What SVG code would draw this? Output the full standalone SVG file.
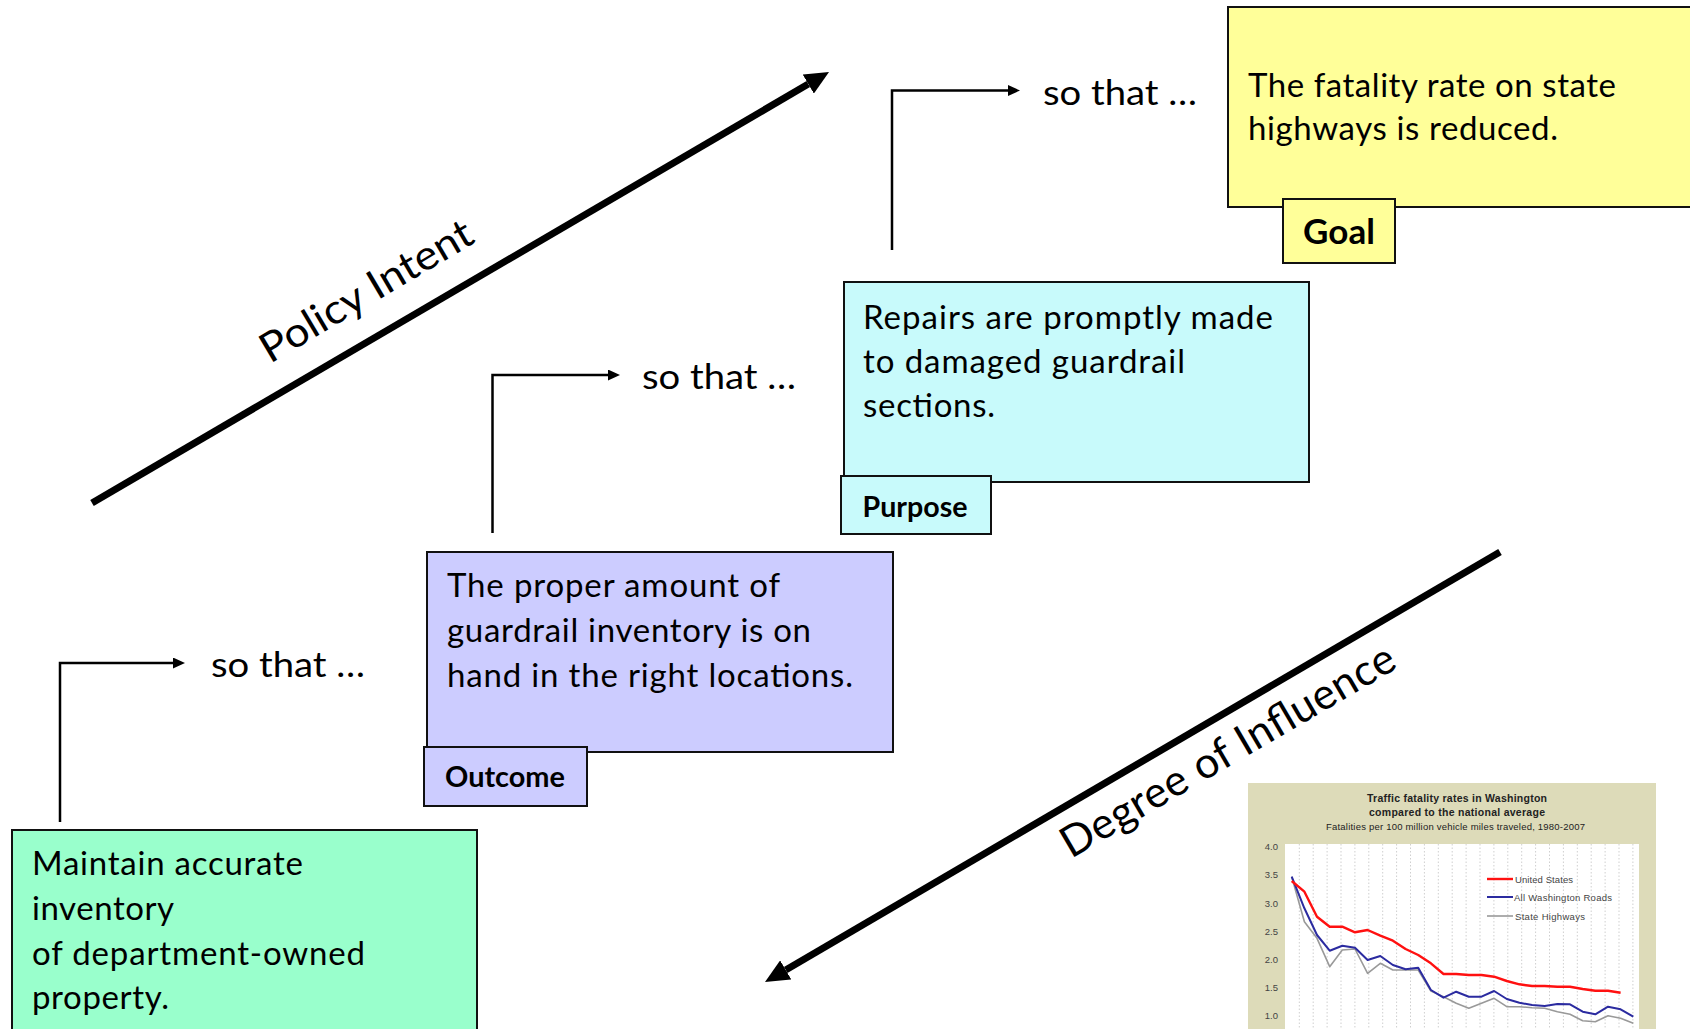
<svg xmlns="http://www.w3.org/2000/svg" width="1690" height="1029" viewBox="0 0 1690 1029">
  <style>
    .box{stroke:#111;stroke-width:2}
    .goal{fill:#FFFF99}
    .purpose{fill:#C8FAFB}
    .outcome{fill:#CCCCFF}
    .task{fill:#99FFCC}
    .txt{font-family:Lato,"Open Sans",sans-serif;font-size:33px;fill:#000}
    .so{font-family:Lato,"Open Sans",sans-serif;font-size:35px;fill:#000}
    .tag{font-family:Lato,"Open Sans",sans-serif;font-weight:bold;font-size:28px;fill:#000;text-anchor:middle}
    .axis{font-family:Lato,"Open Sans",sans-serif;font-size:43px;fill:#000}
    .conn{fill:none;stroke:#000;stroke-width:2.5}
    .trend{fill:none;stroke:#000;stroke-width:7}
    .ch{font-family:"Liberation Sans",Arial,sans-serif;fill:#222}
    .chb{font-family:"Liberation Sans",Arial,sans-serif;font-weight:bold;fill:#222;font-size:10.5px;text-anchor:middle}
    .tick{font-size:9.5px;text-anchor:end;fill:#444}
    .leg{font-size:9.5px;fill:#444}
    .grid{stroke:#cfcfcf;stroke-width:1;stroke-dasharray:1.5 2}
  </style>
  <defs>
    <marker id="headSmall" markerUnits="userSpaceOnUse" markerWidth="12" markerHeight="11" viewBox="0 0 12 11" refX="0" refY="5.5" orient="auto">
      <path d="M0,0 L12,5.5 L0,11 z" fill="#000"/>
    </marker>
    <marker id="headBig" markerUnits="userSpaceOnUse" markerWidth="24" markerHeight="22" viewBox="0 0 24 22" refX="0" refY="11" orient="auto">
      <path d="M0,0 L24,11 L0,22 z" fill="#000"/>
    </marker>
  </defs>

  <rect width="1690" height="1029" fill="#fff"/>

  <!-- diagonal axes -->
  <g id="policy-intent">
    <line class="trend" x1="92" y1="503" x2="808.3" y2="84.1" marker-end="url(#headBig)"/>
    <text class="axis" transform="translate(270,364) rotate(-30.6)" textLength="240" lengthAdjust="spacingAndGlyphs" style="font-size:41px">Policy Intent</text>
  </g>
  <g id="degree-of-influence">
    <line class="trend" x1="1500" y1="552" x2="785.7" y2="969.9" marker-end="url(#headBig)"/>
    <text class="axis" transform="translate(1071,859) rotate(-30.3)" textLength="380">Degree of Influence</text>
  </g>

  <!-- "so that" connectors -->
  <g id="connectors">
    <path class="conn" d="M60,822 V663 H173" marker-end="url(#headSmall)"/>
    <path class="conn" d="M492.5,533 V375 H608" marker-end="url(#headSmall)"/>
    <path class="conn" d="M892,250 V90.5 H1008" marker-end="url(#headSmall)"/>
    <text class="so" x="211" y="677" textLength="154" lengthAdjust="spacingAndGlyphs">so that …</text>
    <text class="so" x="642" y="389" textLength="154" lengthAdjust="spacingAndGlyphs">so that …</text>
    <text class="so" x="1043" y="105" textLength="154" lengthAdjust="spacingAndGlyphs">so that …</text>
  </g>

  <!-- Goal -->
  <g id="goal">
    <rect class="box goal" x="1228" y="7" width="480" height="200"/>
    <text class="txt" x="1248" y="97" textLength="368">The fatality rate on state</text>
    <text class="txt" x="1248" y="140" textLength="310">highways is reduced.</text>
    <rect class="box goal" x="1283" y="199" width="112" height="64"/>
    <text class="tag" x="1339" y="244" style="font-size:35px">Goal</text>
  </g>

  <!-- Purpose -->
  <g id="purpose">
    <rect class="box purpose" x="844" y="282" width="465" height="200"/>
    <text class="txt" x="863" y="329" textLength="410">Repairs are promptly made</text>
    <text class="txt" x="863" y="372.5" textLength="322">to damaged guardrail</text>
    <text class="txt" x="863" y="416.5" textLength="132">sections.</text>
    <rect class="box purpose" x="841" y="476" width="150" height="58"/>
    <text class="tag" x="915" y="517" textLength="105" lengthAdjust="spacingAndGlyphs">Purpose</text>
  </g>

  <!-- Outcome -->
  <g id="outcome">
    <rect class="box outcome" x="427" y="552" width="466" height="200"/>
    <text class="txt" x="447" y="597" textLength="333">The proper amount of</text>
    <text class="txt" x="447" y="642" textLength="364">guardrail inventory is on</text>
    <text class="txt" x="447" y="687" textLength="406">hand in the right locations.</text>
    <rect class="box outcome" x="424" y="747" width="163" height="59"/>
    <text class="tag" x="505" y="787" textLength="120" lengthAdjust="spacingAndGlyphs">Outcome</text>
  </g>

  <!-- Activity -->
  <g id="activity">
    <rect class="box task" x="12" y="830" width="465" height="220"/>
    <text class="txt" x="32" y="875" textLength="271">Maintain accurate</text>
    <text class="txt" x="32" y="920" textLength="142">inventory</text>
    <text class="txt" x="32" y="964.5" textLength="333">of department-owned</text>
    <text class="txt" x="32" y="1009" textLength="137">property.</text>
  </g>

  <!-- fatality-rate chart -->
  <g id="chart">
    <rect x="1248" y="783" width="408" height="260" fill="#DDDBB9"/>
    <rect x="1285" y="844" width="354" height="200" fill="#fff"/>
    <g>
      <line class="grid" x1="1299.3" y1="844" x2="1299.3" y2="1029"/>
      <line class="grid" x1="1313.2" y1="844" x2="1313.2" y2="1029"/>
      <line class="grid" x1="1327.1" y1="844" x2="1327.1" y2="1029"/>
      <line class="grid" x1="1341.0" y1="844" x2="1341.0" y2="1029"/>
      <line class="grid" x1="1354.9" y1="844" x2="1354.9" y2="1029"/>
      <line class="grid" x1="1368.8" y1="844" x2="1368.8" y2="1029"/>
      <line class="grid" x1="1382.7" y1="844" x2="1382.7" y2="1029"/>
      <line class="grid" x1="1396.6" y1="844" x2="1396.6" y2="1029"/>
      <line class="grid" x1="1410.5" y1="844" x2="1410.5" y2="1029"/>
      <line class="grid" x1="1424.4" y1="844" x2="1424.4" y2="1029"/>
      <line class="grid" x1="1438.3" y1="844" x2="1438.3" y2="1029"/>
      <line class="grid" x1="1452.2" y1="844" x2="1452.2" y2="1029"/>
      <line class="grid" x1="1466.1" y1="844" x2="1466.1" y2="1029"/>
      <line class="grid" x1="1480.0" y1="844" x2="1480.0" y2="1029"/>
      <line class="grid" x1="1493.9" y1="844" x2="1493.9" y2="1029"/>
      <line class="grid" x1="1507.8" y1="844" x2="1507.8" y2="1029"/>
      <line class="grid" x1="1521.7" y1="844" x2="1521.7" y2="1029"/>
      <line class="grid" x1="1535.6" y1="844" x2="1535.6" y2="1029"/>
      <line class="grid" x1="1549.5" y1="844" x2="1549.5" y2="1029"/>
      <line class="grid" x1="1563.4" y1="844" x2="1563.4" y2="1029"/>
      <line class="grid" x1="1577.3" y1="844" x2="1577.3" y2="1029"/>
      <line class="grid" x1="1591.2" y1="844" x2="1591.2" y2="1029"/>
      <line class="grid" x1="1605.1" y1="844" x2="1605.1" y2="1029"/>
      <line class="grid" x1="1619.0" y1="844" x2="1619.0" y2="1029"/>
      <line class="grid" x1="1632.9" y1="844" x2="1632.9" y2="1029"/>
    </g>
    <text class="chb" x="1457" y="802" textLength="180">Traffic fatality rates in Washington</text>
    <text class="chb" x="1457" y="816" textLength="176">compared to the national average</text>
    <text class="ch" x="1455.5" y="830" font-size="9.5" text-anchor="middle" textLength="259">Fatalities per 100 million vehicle miles traveled,  1980-2007</text>
    <g class="ch tick">
      <text x="1278" y="849.5">4.0</text>
      <text x="1278" y="878">3.5</text>
      <text x="1278" y="906.5">3.0</text>
      <text x="1278" y="934.5">2.5</text>
      <text x="1278" y="962.5">2.0</text>
      <text x="1278" y="990.5">1.5</text>
      <text x="1278" y="1019">1.0</text>
    </g>
    <polyline fill="none" stroke="#999" stroke-width="1.6" stroke-linejoin="round" points="1291.7,876.7 1304.4,921.7 1317.0,938.3 1329.7,966.7 1342.3,950.0 1355.0,949.0 1367.6,973.3 1380.3,963.3 1392.9,970.0 1405.6,970.0 1418.2,970.0 1430.9,991.0 1443.5,996.7 1456.2,1003.3 1468.8,1008.3 1481.5,1003.3 1494.1,998.3 1506.8,1006.7 1519.4,1006.7 1532.1,1007.7 1544.7,1008.3 1557.4,1011.7 1570.0,1014.3 1582.7,1020.7 1595.3,1021.7 1608.0,1015.7 1620.6,1018.3 1633.3,1023.3"/>
    <polyline fill="none" stroke="#2B2BA0" stroke-width="2" stroke-linejoin="round" points="1291.7,876.7 1304.4,908.3 1317.0,935.0 1329.7,950.7 1342.3,945.7 1355.0,947.7 1367.6,960.0 1380.3,956.0 1392.9,965.0 1405.6,969.3 1418.2,967.7 1430.9,990.0 1443.5,997.7 1456.2,991.7 1468.8,996.7 1481.5,996.7 1494.1,991.0 1506.8,999.0 1519.4,1002.7 1532.1,1005.0 1544.7,1006.0 1557.4,1004.0 1570.0,1004.3 1582.7,1011.7 1595.3,1014.3 1608.0,1006.7 1620.6,1009.3 1633.3,1016.7"/>
    <polyline fill="none" stroke="#FF1010" stroke-width="2.4" stroke-linejoin="round" points="1291.7,881.0 1304.4,891.7 1317.0,916.7 1329.7,926.7 1342.3,926.7 1355.0,932.3 1367.6,930.0 1380.3,935.7 1392.9,940.7 1405.6,949.0 1418.2,955.0 1430.9,963.3 1443.5,974.0 1456.2,974.0 1468.8,975.0 1481.5,975.0 1494.1,976.7 1506.8,981.0 1519.4,984.3 1532.1,986.0 1544.7,986.0 1557.4,986.7 1570.0,986.7 1582.7,989.0 1595.3,990.7 1608.0,990.7 1620.6,992.7"/>
    <line x1="1487" y1="879" x2="1513" y2="879" stroke="#FF1010" stroke-width="2.4"/>
    <line x1="1487" y1="897" x2="1513" y2="897" stroke="#2B2BA0" stroke-width="2"/>
    <line x1="1487" y1="916" x2="1513" y2="916" stroke="#999" stroke-width="1.6"/>
    <g class="ch leg">
      <text x="1515" y="882.5" textLength="58">United States</text>
      <text x="1514" y="900.5" textLength="98">All Washington Roads</text>
      <text x="1515" y="919.5" textLength="70">State Highways</text>
    </g>
  </g>
</svg>
